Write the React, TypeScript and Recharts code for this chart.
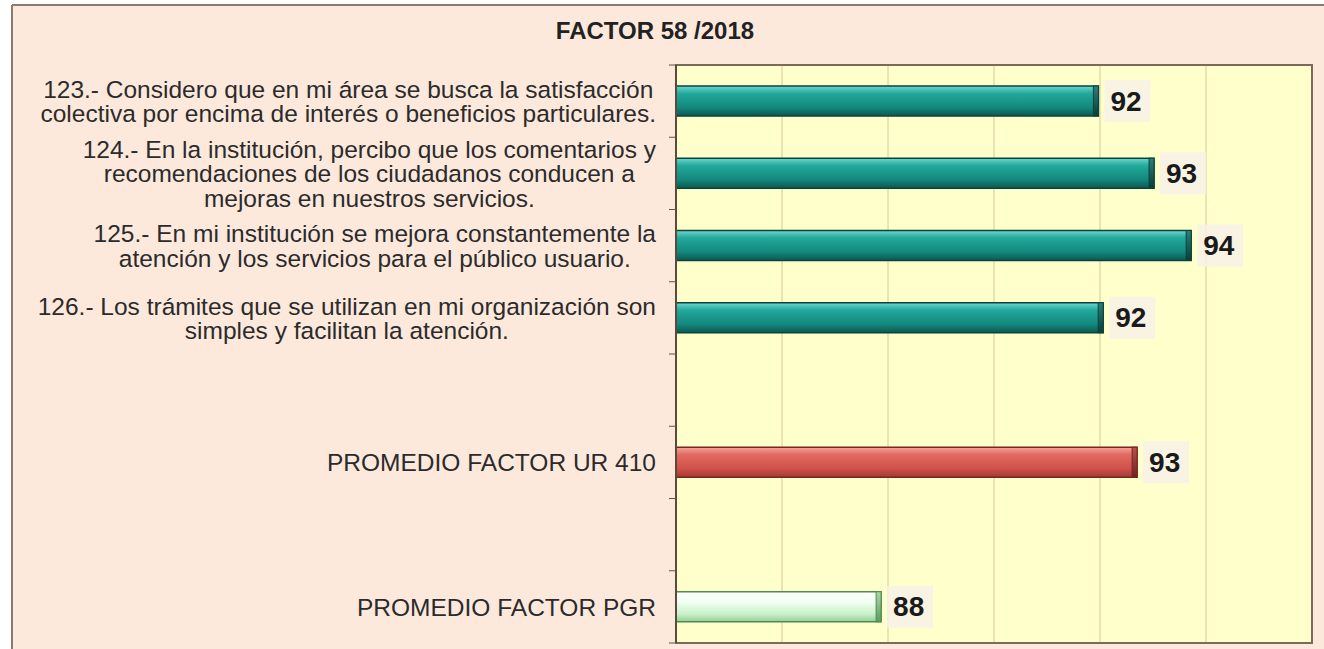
import React from 'react';
import { BarChart, Bar, XAxis, YAxis, CartesianGrid, LabelList, ReferenceArea } from 'recharts';

const title = 'FACTOR 58 /2018';
const categories = [
  '123.- Considero que en mi área se busca la satisfacción\ncolectiva por encima de interés o beneficios particulares.',
  '124.- En la institución, percibo que los comentarios y\nrecomendaciones de los ciudadanos conducen a\nmejoras en nuestros servicios.',
  '125.- En mi institución se mejora constantemente la\natención y los servicios para el público usuario.',
  '126.- Los trámites que se utilizan en mi organización son\nsimples y facilitan la atención.',
  '',
  'PROMEDIO FACTOR UR 410',
  '',
  'PROMEDIO FACTOR PGR',
];
const values: (number | null)[] = [91.97, 93.02, 93.72, 92.06, null, 92.7, null, 87.87];
const barKinds = ['item', 'item', 'item', 'item', 'none', 'ur', 'none', 'pgr'];
const xTicks = [84, 86, 88, 90, 92, 94, 96];

const data = categories.map((c, i) => ({ idx: i, value: values[i], kind: barKinds[i] }));

const W = 1324;
const H = 649;
const PLOT_TOP = 65;
const PLOT_BOTTOM = 643;
const PLOT_LEFT = 676;
const PLOT_RIGHT = 1312;
const BAND = (PLOT_BOTTOM - PLOT_TOP) / categories.length;
const FS = 24.5;
const LH = 24.5;
const FONT = '"Liberation Sans", Arial, Helvetica, sans-serif';

const strokes: Record<string, string> = { item: '#0c423c', ur: '#7a2620', pgr: '#4f8a52' };

let ctx: CanvasRenderingContext2D | null = null;
function measure(t: string): number {
  if (!ctx) {
    ctx = document.createElement('canvas').getContext('2d');
  }
  if (!ctx) return t.length * FS * 0.5;
  ctx.font = `${FS}px ${FONT}`;
  return ctx.measureText(t).width;
}

const CategoryTick = (props: any) => {
  const { y, payload, index } = props;
  const label = categories[payload.value] ?? '';
  const lines = label ? label.split('\n') : [];
  const maxW = lines.reduce((m: number, l: string) => Math.max(m, measure(l)), 0);
  const cx = 656 - maxW / 2;
  const startY = y - ((lines.length - 1) * LH) / 2;
  return (
    <g>
      <line x1={669} x2={PLOT_LEFT} y1={y - BAND / 2} y2={y - BAND / 2} stroke="#555" strokeWidth={1} />
      {index === categories.length - 1 || payload.value === categories.length - 1 ? (
        <line x1={669} x2={PLOT_LEFT} y1={y + BAND / 2} y2={y + BAND / 2} stroke="#555" strokeWidth={1} />
      ) : null}
      {lines.length > 0 && (
        <text x={cx} y={startY} textAnchor="middle" fontFamily={FONT} fontSize={FS} fill="#2b2b2b" dominantBaseline="central">
          {lines.map((l: string, i: number) => (
            <tspan key={i} x={cx} y={startY + i * LH} dominantBaseline="central">
              {l}
            </tspan>
          ))}
        </text>
      )}
    </g>
  );
};

const BarShape = (props: any) => {
  const { x, y, width, height, payload } = props;
  if (!width || width <= 0 || payload == null || payload.value == null) return null;
  const kind = payload.kind;
  const stroke = strokes[kind] || '#333';
  return (
    <g>
      <rect x={x} y={y} width={width} height={height} fill={`url(#g-${kind})`} stroke={stroke} strokeWidth={1.5} />
      <rect x={x + width - 5} y={y} width={5} height={height} fill={`url(#e-${kind})`} stroke={stroke} strokeWidth={1} />
    </g>
  );
};

const ValueLabel = (props: any) => {
  const { x, y, width, height, value } = props;
  if (value == null) return null;
  const lx = x + width + 12;
  const cy = y + height / 2;
  return (
    <g>
      <rect x={x + width + 6} y={cy - 21} width={46} height={42} fill="#f8f1e8" opacity={0.85} />
      <text x={lx} y={cy} dominantBaseline="central" fontFamily={FONT} fontSize={28} fontWeight="bold" fill="#1a1a1a">
        {Math.round(value)}
      </text>
    </g>
  );
};

export default function App() {
  return (
    <div style={{ position: 'absolute', left: 0, top: 0, width: W, height: H, background: '#ffffff', overflow: 'hidden' }}>
      <svg width={W} height={H} style={{ position: 'absolute', left: 0, top: 0 }}>
        <defs>
          <linearGradient id="g-item" x1="0" y1="0" x2="0" y2="1">
            <stop offset="0%" stopColor="#6fd6cb" />
            <stop offset="25%" stopColor="#22a89c" />
            <stop offset="70%" stopColor="#14897e" />
            <stop offset="100%" stopColor="#0a5a52" />
          </linearGradient>
          <linearGradient id="e-item" x1="0" y1="0" x2="0" y2="1">
            <stop offset="0%" stopColor="#2a8078" />
            <stop offset="100%" stopColor="#083e38" />
          </linearGradient>
          <linearGradient id="g-ur" x1="0" y1="0" x2="0" y2="1">
            <stop offset="0%" stopColor="#f7a39a" />
            <stop offset="25%" stopColor="#e06a62" />
            <stop offset="70%" stopColor="#d0524a" />
            <stop offset="100%" stopColor="#a33a33" />
          </linearGradient>
          <linearGradient id="e-ur" x1="0" y1="0" x2="0" y2="1">
            <stop offset="0%" stopColor="#b5524b" />
            <stop offset="100%" stopColor="#6e2420" />
          </linearGradient>
          <linearGradient id="g-pgr" x1="0" y1="0" x2="0" y2="1">
            <stop offset="0%" stopColor="#ffffff" />
            <stop offset="35%" stopColor="#f0fff0" />
            <stop offset="75%" stopColor="#c8f0c8" />
            <stop offset="100%" stopColor="#90d096" />
          </linearGradient>
          <linearGradient id="e-pgr" x1="0" y1="0" x2="0" y2="1">
            <stop offset="0%" stopColor="#a8d8a8" />
            <stop offset="100%" stopColor="#5f9a62" />
          </linearGradient>
        </defs>
        <rect x={12} y={5} width={W} height={H} fill="#fde9dc" />
        <line x1={12} y1={5} x2={W} y2={5} stroke="#8b7b6e" strokeWidth={2} />
        <line x1={12} y1={5} x2={12} y2={H} stroke="#8b7b6e" strokeWidth={2} />
        <text x={655} y={39} textAnchor="middle" fontFamily={FONT} fontSize={24} fontWeight="bold" fill="#222">
          {title}
        </text>
      </svg>
      <div style={{ position: 'absolute', left: 0, top: 0 }}>
        <BarChart
          width={W}
          height={H}
          data={data}
          layout="vertical"
          margin={{ top: PLOT_TOP, right: W - PLOT_RIGHT, bottom: H - PLOT_BOTTOM, left: 0 }}
          barCategoryGap={0}
        >
          <CartesianGrid horizontal={false} vertical={true} stroke="#d6c99a" fill="#ffffcc" fillOpacity={1} />
          <XAxis type="number" domain={[84, 96]} ticks={xTicks} hide allowDataOverflow />
          <YAxis
            type="category"
            dataKey="idx"
            width={PLOT_LEFT}
            interval={0}
            tickLine={false}
            axisLine={{ stroke: '#5a4a3c', strokeWidth: 2 }}
            tick={<CategoryTick />}
          />
          <ReferenceArea x1={84} x2={96} fill="none" stroke="#7a6a5a" strokeWidth={2} />
          <Bar dataKey="value" barSize={30} isAnimationActive={false} shape={<BarShape />}>
            <LabelList dataKey="value" content={<ValueLabel />} />
          </Bar>
        </BarChart>
      </div>
    </div>
  );
}
